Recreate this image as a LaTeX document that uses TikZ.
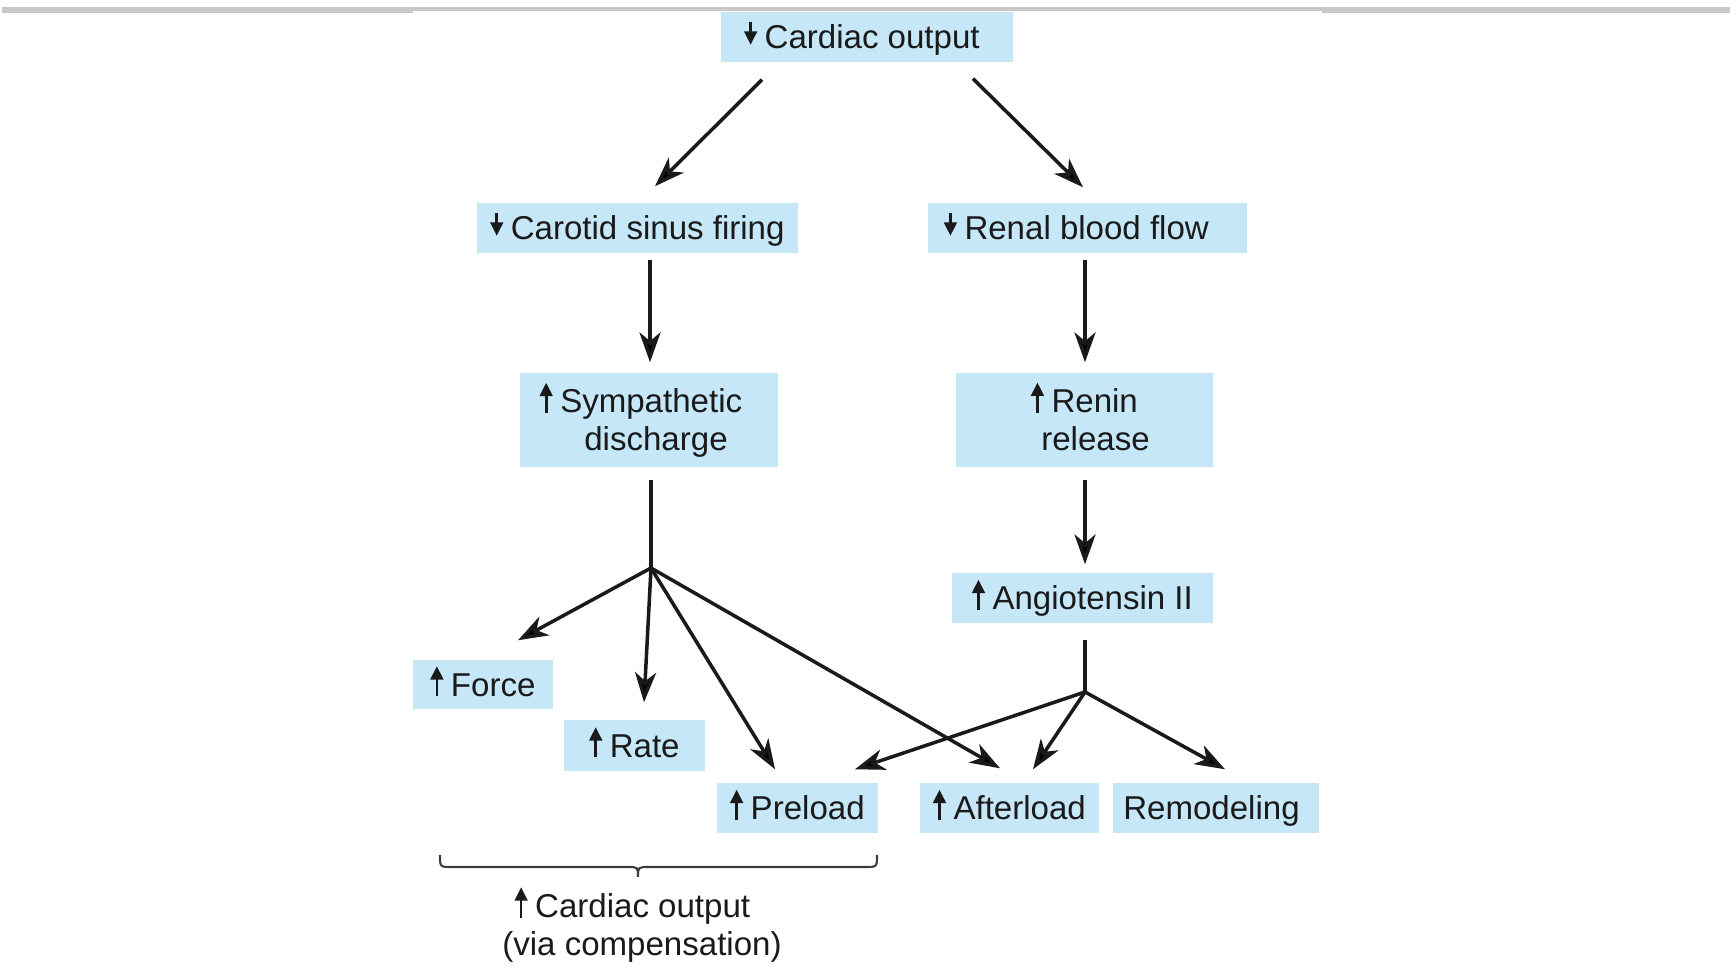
\documentclass[tikz,border=0pt]{standalone}
\usepackage{fontspec}
\setmainfont{Liberation Sans}
\usetikzlibrary{arrows.meta,calc}
\definecolor{boxblue}{HTML}{C6E7F7}
\definecolor{topgray}{HTML}{C8C8C8}
\definecolor{txt}{HTML}{1A1A1A}
\newcommand\uparr{\raisebox{0pt}[6.6pt][0pt]{\tikz[baseline=0pt]\draw[color=txt,line width=0.75pt,-{Triangle[length=3.8pt,width=3.6pt]}] (0pt,0pt) -- (0pt,8.6pt);}\hspace{2.2pt}}
\newcommand\dnarr{\raisebox{0pt}[6.6pt][0pt]{\tikz[baseline=0pt]\draw[color=txt,line width=0.75pt,-{Triangle[length=3.8pt,width=3.6pt]}] (0pt,7.8pt) -- (0pt,1.2pt);}\hspace{2.2pt}}
\begin{document}
\begin{tikzpicture}[x=0.01cm,y=-0.01cm,
  box/.style={fill=boxblue, inner sep=0pt, text=txt, font=\fontsize{9.4}{10.8}\selectfont, align=center},
  onebox/.style={box, text height=6.8pt, text depth=0pt},
  conn/.style={line width=1pt, draw=txt, -{Stealth[length=8.5pt,width=6pt,inset=2.5pt]}},
  stem/.style={line width=1pt, draw=txt},
  bracestyle/.style={line width=0.6pt, draw=txt!85}
]
\useasboundingbox (0,0) rectangle (1736,974);
% top rule
\fill[topgray] (2,7.5) rectangle (413,13.5);
\fill[topgray] (413,7.5) rectangle (1322,11.5);
\fill[topgray] (1322,7.5) rectangle (1730,13);

% boxes
\node[onebox, minimum width=2.92cm, minimum height=0.50cm] (co) at (867,37) {\dnarr Cardiac output\kern0.1cm};
\node[onebox, minimum width=3.21cm, minimum height=0.50cm] (cs) at (637.5,228) {\dnarr Carotid sinus firing};
\node[onebox, minimum width=3.19cm, minimum height=0.50cm] (rb) at (1087.5,228) {\dnarr Renal blood flow\kern0.22cm};
\node[box, text depth=0pt, minimum width=2.58cm, minimum height=0.94cm] (sd) at (649,420) {\uparr Sympathetic\kern0.16cm\\\kern0.14cm discharge};
\node[box, minimum width=2.57cm, minimum height=0.94cm] (rr) at (1084.5,420) {\uparr Renin\\\kern0.22cm release};
\node[onebox, minimum width=2.61cm, minimum height=0.50cm] (an) at (1082.5,598) {\uparr Angiotensin II};
\node[onebox, minimum width=1.40cm, minimum height=0.49cm] (fo) at (483,684.5) {\uparr Force};
\node[onebox, minimum width=1.41cm, minimum height=0.51cm] (ra) at (634.5,745.5) {\uparr Rate};
\node[onebox, minimum width=1.61cm, minimum height=0.50cm] (pr) at (797.5,808) {\uparr Preload};
\node[onebox, minimum width=1.79cm, minimum height=0.50cm] (af) at (1009.5,808) {\uparr Afterload};
\node[onebox, minimum width=2.06cm, minimum height=0.50cm] (rm) at (1216,808) {Remodeling\kern0.09cm};

% branch points
\coordinate (b1) at (651,568);
\coordinate (b2) at (1085,692);

% connectors
\draw[conn] ($(co.south)+(-105,17)$) -- ($(cs.north)+(17.5,-16)$);
\draw[conn] ($(co.south)+(106,16)$) -- ($(rb.north)+(-4.5,-15)$);
\draw[conn] ($(cs.south)+(12.5,6)$) -- ($(sd.north)+(1,-10)$);
\draw[conn] ($(rb.south)+(-2.5,6)$) -- ($(rr.north)+(0.5,-10)$);
\draw[stem] ($(sd.south)+(2,12)$) -- (b1);
\draw[conn] (b1) -- ($(fo.north)+(35,-19)$);
\draw[conn] (b1) -- ($(ra.north)+(9.5,-17)$);
\draw[conn] (b1) -- ($(pr.north)+(-22.5,-13)$);
\draw[conn] (b1) -- ($(af.north)+(-9.5,-14)$);
\draw[conn] ($(rr.south)+(0.5,12)$) -- ($(an.north)+(2.5,-8)$);
\draw[stem] ($(an.south)+(2.5,16)$) -- (b2);
\draw[conn] (b2) -- ($(pr.north)+(57.5,-13)$);
\draw[conn] (b2) -- ($(af.north)+(23.5,-13)$);
\draw[conn] (b2) -- ($(rm.north)+(9,-13)$);

% brace
\draw[bracestyle] (440,855) .. controls (440,867) .. (452,867) -- (627,867)
  .. controls (638,867) .. (638,877) .. controls (638,867) .. (649,867) -- (865,867)
  .. controls (877,867) .. (877,855);

% bottom label
\node[text=txt, font=\fontsize{9.4}{10.8}\selectfont, align=center, inner sep=0pt] (cc) at (642,928) {\uparr Cardiac output\kern0.19cm\\(via compensation)};
\end{tikzpicture}
\end{document}
